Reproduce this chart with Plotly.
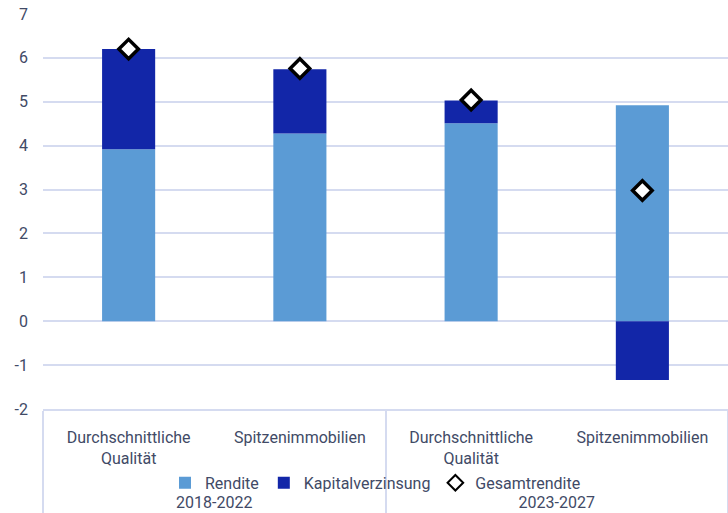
import plotly.graph_objects as go

periods = ["<br><span style='baseline-shift:-15px'>2018-2022</span>"] * 2 + \
          ["<br><span style='baseline-shift:-15px'>2023-2027</span>"] * 2
categories = ["Durchschnittliche<br>Qualität", "Spitzenimmobilien",
              "Durchschnittliche<br>Qualität", "Spitzenimmobilien"]
rendite = [3.92, 4.28, 4.51, 4.92]
kapital = [2.28, 1.46, 0.52, -1.34]
gesamt = [6.20, 5.76, 5.04, 2.98]
y_ticks = [-2, -1, 0, 1, 2, 3, 4, 5, 6, 7]
y_tick_labels = ["-2", "-1", "0", "1", "2", "3", "4", "5", "6", "7"]

FONT = "Roboto"
TXT = "#414a66"
GRID = "#d5dbf0"

fig = go.Figure()
fig.add_trace(go.Bar(x=[periods, categories], y=rendite, name="Rendite",
                     marker=dict(color="#5b9bd5", line=dict(width=0)), width=0.31))
fig.add_trace(go.Bar(x=[periods, categories], y=kapital, name="Kapitalverzinsung",
                     marker=dict(color="#1226a8", line=dict(width=0)), width=0.31))
fig.add_trace(go.Scatter(x=[periods, categories], y=gesamt, name="Gesamtrendite",
                         mode="markers",
                         marker=dict(symbol="diamond", size=15, color="white",
                                     line=dict(color="black", width=3.5))))

fig.update_layout(
    width=728, height=513,
    margin=dict(l=43, r=0, t=14, b=104),
    barmode="relative",
    plot_bgcolor="white", paper_bgcolor="white",
    font=dict(family=FONT, size=16, color=TXT),
    showlegend=True,
    legend=dict(orientation="h", x=0.4854, xanchor="center", y=-0.187, yanchor="middle",
                font=dict(family=FONT, size=16, color=TXT), bgcolor="rgba(0,0,0,0)",
                itemwidth=30, tracegroupgap=0, itemsizing="constant"),
)
fig.update_yaxes(range=[-2, 7], tickvals=y_ticks, ticktext=y_tick_labels,
                 showgrid=True, gridcolor=GRID, gridwidth=2,
                 zeroline=True, zerolinecolor=GRID, zerolinewidth=2,
                 showline=False, ticklabelstandoff=14,
                 tickfont=dict(family=FONT, size=16, color=TXT))
fig.update_xaxes(type="multicategory", showgrid=False, showline=True,
                 linecolor=GRID, linewidth=2,
                 showdividers=True, dividercolor=GRID, dividerwidth=2,
                 ticks="", ticklabelstandoff=13,
                 tickfont=dict(family=FONT, size=16, color=TXT))

fig.write_html("out.html")
